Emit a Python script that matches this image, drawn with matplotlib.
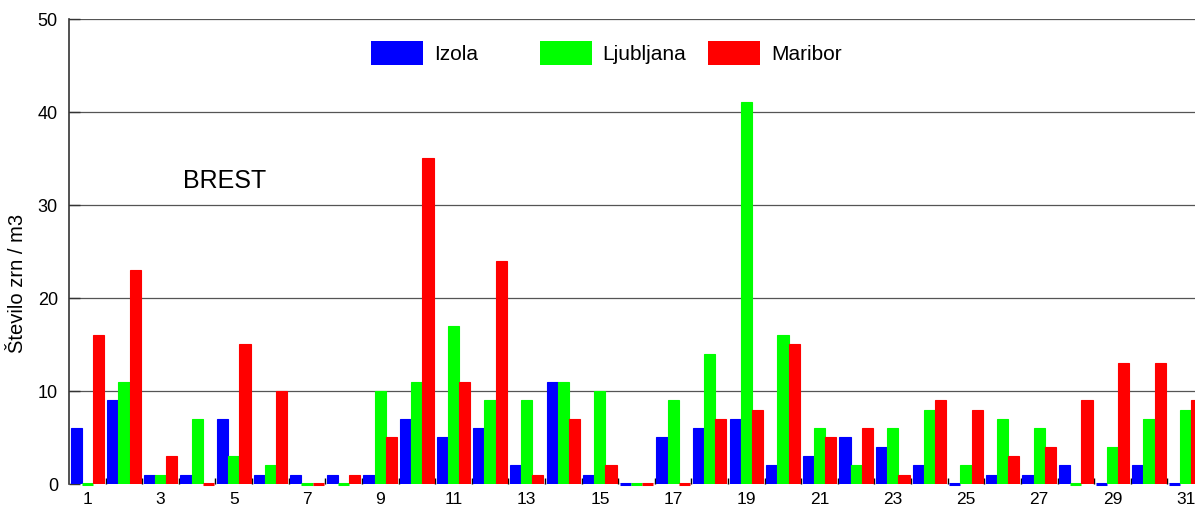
import numpy as np
import matplotlib
matplotlib.use("Agg")
from matplotlib import pyplot as plt
from matplotlib.patches import Rectangle

plt.rcParams['font.family'] = ['Liberation Sans', 'DejaVu Sans']

days = np.arange(1, 32)
izola = [6, 9, 1, 1, 7, 1, 1, 1, 1, 7, 5, 6, 2, 11, 1, 0,
         5, 6, 7, 2, 3, 5, 4, 2, 0, 1, 1, 2, 0, 2, 0]
ljubljana = [0, 11, 1, 7, 3, 2, 0, 0, 10, 11, 17, 9, 9, 11, 10, 0,
             9, 14, 41, 16, 6, 2, 6, 8, 2, 7, 6, 0, 4, 7, 8]
maribor = [16, 23, 3, 0, 15, 10, 0, 1, 5, 35, 11, 24, 1, 7, 2, 0,
           0, 7, 8, 15, 5, 6, 1, 9, 8, 3, 4, 9, 13, 13, 9]
series = [("Izola", izola, "#0000ff"),
          ("Ljubljana", ljubljana, "#00ff00"),
          ("Maribor", maribor, "#ff0000")]
title_text = "BREST"
y_label = "Število zrn / m3"

W, H = 1195, 510
fig = plt.figure(figsize=(W / 100, H / 100), dpi=100)
# axes run slightly past the right edge of the figure
left, right, bottom, top = 69, 1204, 25, 490.5
ax = fig.add_axes([left / W, bottom / H, (right - left) / W, (top - bottom) / H])

bw = 0.305
for i, (name, vals, col) in enumerate(series):
    x = days + (i - 1) * bw
    vals = np.array(vals)
    ax.bar(x, vals, width=bw, color=col, edgecolor=col, linewidth=0.8,
           zorder=3)
    # zero counts still show up as a flat stroke on the baseline
    zero = vals == 0
    ax.hlines(vals[zero], x[zero] - bw / 2, x[zero] + bw / 2, colors=col,
              linewidth=2.2, zorder=3, clip_on=False)

ax.set_xlim(0.5, 31.5)
ax.set_ylim(0, 50)
ax.set_yticks(range(0, 51, 10))
ax.set_xticks(range(1, 32, 2))
ax.set_xticks(np.arange(1.5, 31, 1), minor=True)
ax.tick_params(axis='x', which='major', length=0, pad=5, labelsize=12.5)
ax.tick_params(axis='x', which='minor', direction='in', length=4.5,
               width=1, color='black')
ax.tick_params(axis='y', direction='in', length=8, width=1, color='#333333',
               pad=8, labelsize=13)
ax.yaxis.grid(True, color='#555555', linewidth=0.9, zorder=1)
ax.set_axisbelow(True)
for s in ['top', 'right', 'bottom']:
    ax.spines[s].set_visible(False)
ax.spines['left'].set_color('#333333')
ax.spines['left'].set_linewidth(1.2)

fig.text(18 / W, 1 - 283 / H, y_label, rotation=90, ha='center', va='center',
         fontsize=14.5)
fig.text(183 / W, 1 - 188 / H, title_text, ha='left', va='baseline',
         fontsize=18)

# legend laid out by hand in fixed-width columns
for i, (name, vals, col) in enumerate(series):
    x0 = 371 + i * 168.5
    fig.patches.append(Rectangle((x0 / W, 1 - 66 / H), 52 / W, 24 / H,
                                 transform=fig.transFigure, facecolor=col,
                                 edgecolor='none'))
    fig.text((x0 + 63) / W, 1 - 54 / H, name, ha='left', va='center',
             fontsize=15)

fig.savefig("out.png", dpi=100)
